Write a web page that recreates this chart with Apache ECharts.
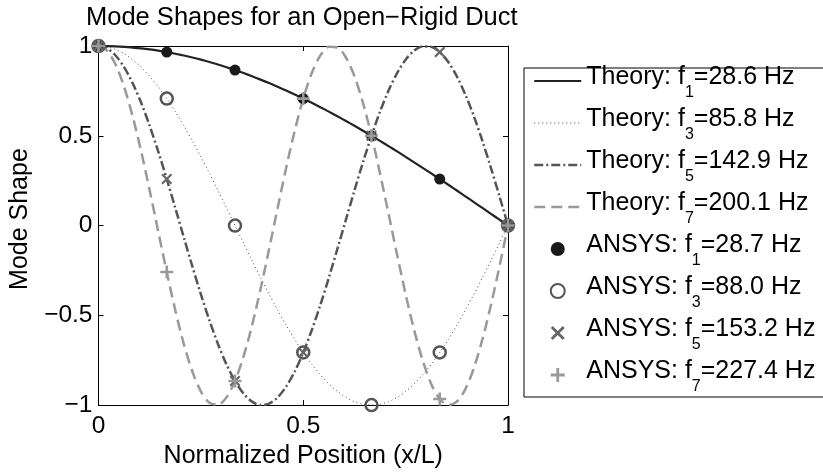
<!DOCTYPE html>
<html><head><meta charset="utf-8">
<script src="https://cdn.jsdelivr.net/npm/echarts@6/dist/echarts.min.js"></script>
<style>html,body{margin:0;padding:0;background:#fff}#c{width:823px;height:474px}</style>
</head><body><div id="c"></div>
<script>
// Normalized positions for the theory curves
const positions = [0, 0.0208, 0.0417, 0.0625, 0.0833, 0.1042, 0.125, 0.1458, 0.1667, 0.1875, 0.2083, 0.2292, 0.25, 0.2708, 0.2917, 0.3125, 0.3333, 0.3542, 0.375, 0.3958, 0.4167, 0.4375, 0.4583, 0.4792, 0.5, 0.5208, 0.5417, 0.5625, 0.5833, 0.6042, 0.625, 0.6458, 0.6667, 0.6875, 0.7083, 0.7292, 0.75, 0.7708, 0.7917, 0.8125, 0.8333, 0.8542, 0.875, 0.8958, 0.9167, 0.9375, 0.9583, 0.9792, 1];
const theoryF1 = [1, 0.9995, 0.9979, 0.9952, 0.9914, 0.9866, 0.9808, 0.9739, 0.9659, 0.9569, 0.9469, 0.9359, 0.9239, 0.9109, 0.8969, 0.8819, 0.8660, 0.8492, 0.8315, 0.8128, 0.7934, 0.7730, 0.7518, 0.7297, 0.7071, 0.6836, 0.6593, 0.6344, 0.6088, 0.5825, 0.5556, 0.5281, 0.5, 0.4714, 0.4423, 0.4128, 0.3827, 0.3522, 0.3214, 0.2903, 0.2588, 0.2271, 0.1951, 0.1629, 0.1305, 0.0980, 0.0654, 0.0327, 0];
const theoryF3 = [1, 0.9952, 0.9808, 0.9569, 0.9239, 0.8819, 0.8315, 0.7730, 0.7071, 0.6344, 0.5556, 0.4714, 0.3827, 0.2903, 0.1951, 0.0980, 0, -0.0980, -0.1951, -0.2903, -0.3827, -0.4714, -0.5556, -0.6344, -0.7071, -0.7730, -0.8315, -0.8819, -0.9239, -0.9569, -0.9808, -0.9952, -1, -0.9952, -0.9808, -0.9569, -0.9239, -0.8819, -0.8315, -0.7730, -0.7071, -0.6344, -0.5556, -0.4714, -0.3827, -0.2903, -0.1951, -0.0980, 0];
const theoryF5 = [1, 0.9866, 0.9469, 0.8819, 0.7934, 0.6836, 0.5556, 0.4128, 0.2588, 0.0980, -0.0654, -0.2271, -0.3827, -0.5281, -0.6593, -0.7730, -0.8660, -0.9359, -0.9808, -0.9995, -0.9914, -0.9569, -0.8969, -0.8128, -0.7071, -0.5825, -0.4423, -0.2903, -0.1305, 0.0327, 0.1951, 0.3522, 0.5, 0.6344, 0.7518, 0.8492, 0.9239, 0.9739, 0.9979, 0.9952, 0.9659, 0.9109, 0.8315, 0.7297, 0.6088, 0.4714, 0.3214, 0.1629, 0];
const theoryF7 = [1, 0.9739, 0.8969, 0.7730, 0.6088, 0.4128, 0.1951, -0.0327, -0.2588, -0.4714, -0.6593, -0.8128, -0.9239, -0.9866, -0.9979, -0.9569, -0.8660, -0.7297, -0.5556, -0.3522, -0.1305, 0.0980, 0.3214, 0.5281, 0.7071, 0.8492, 0.9469, 0.9952, 0.9914, 0.9359, 0.8315, 0.6836, 0.5, 0.2903, 0.0654, -0.1629, -0.3827, -0.5825, -0.7518, -0.8819, -0.9659, -0.9995, -0.9808, -0.9109, -0.7934, -0.6344, -0.4423, -0.2271, 0];

// ANSYS nodal results
const ansysX = [0, 0.1667, 0.3333, 0.5, 0.6667, 0.8333, 1];
const ansysF1 = [1, 0.966, 0.866, 0.707, 0.5, 0.259, 0];
const ansysF3 = [1, 0.707, 0, -0.707, -1, -0.707, 0];
const ansysF5 = [1, 0.259, -0.866, -0.707, 0.5, 0.966, 0];
const ansysF7 = [1, -0.259, -0.866, 0.707, 0.5, -0.966, 0];

const theoryNames = ['Theory: f1=28.6 Hz', 'Theory: f3=85.8 Hz', 'Theory: f5=142.9 Hz', 'Theory: f7=200.1 Hz'];
const ansysNames = ['ANSYS: f1=28.7 Hz', 'ANSYS: f3=88.0 Hz', 'ANSYS: f5=153.2 Hz', 'ANSYS: f7=227.4 Hz'];
const xTicks = [0, 0.5, 1];
const yTicks = [-1, -0.5, 0, 0.5, 1];

const FONT = '"Liberation Sans", Arial, Helvetica, sans-serif';
const pair = (xs, ys) => xs.map((x, i) => [x, ys[i]]);
const tickFmt = v => (v < 0 ? '\u2212' + Math.abs(v) : String(v));

const chart = echarts.init(document.getElementById('c'), null, {renderer: 'canvas'});

const theoryStyles = [
  {color: '#222222', width: 2.2, type: 'solid'},
  {color: '#4a4a4a', width: 1, type: [1, 3]},
  {color: '#555555', width: 2.5, type: [9, 3, 2, 3]},
  {color: '#999999', width: 2.5, type: [11, 6]}
];
const theoryData = [theoryF1, theoryF3, theoryF5, theoryF7];

const series = [];
theoryData.forEach((ys, i) => {
  series.push({
    name: theoryNames[i], type: 'line', data: pair(positions, ys),
    symbol: 'none', showSymbol: false, smooth: 0.3, lineStyle: theoryStyles[i],
    itemStyle: {color: theoryStyles[i].color}, silent: true, z: 2
  });
});
const xPath = 'path://M0,1.4L1.4,0L5,3.6L8.6,0L10,1.4L6.4,5L10,8.6L8.6,10L5,6.4L1.4,10L0,8.6L3.6,5Z';
const plusPath = 'path://M4,0H6V4H10V6H6V10H4V6H0V4H4Z';
series.push({name: ansysNames[0], type: 'scatter', data: pair(ansysX, ansysF1), symbol: 'circle', symbolSize: 11,
  itemStyle: {color: '#1a1a1a', opacity: 1}, silent: true, z: 3});
series.push({name: ansysNames[1], type: 'scatter', data: pair(ansysX, ansysF3), symbol: 'circle', symbolSize: 12,
  itemStyle: {color: 'transparent', borderColor: '#555555', borderWidth: 2.5, opacity: 1}, silent: true, z: 3});
series.push({name: ansysNames[2], type: 'scatter', data: pair(ansysX, ansysF5), symbol: xPath, symbolSize: 11,
  itemStyle: {color: '#666666', opacity: 1}, silent: true, z: 3});
series.push({name: ansysNames[3], type: 'scatter', data: pair(ansysX, ansysF7), symbol: plusPath, symbolSize: 13,
  itemStyle: {color: '#9a9a9a', opacity: 1}, silent: true, z: 3});

const axisCommon = {
  type: 'value', axisLine: {show: true, onZero: false, lineStyle: {color: '#000', width: 1}},
  axisTick: {show: true, inside: true, length: 5, lineStyle: {color: '#000'}},
  splitLine: {show: false}
};
const hideSym = {color: 'transparent', borderWidth: 0, opacity: 0};

chart.setOption({
  animation: false,
  backgroundColor: '#fff',
  title: {
    text: 'Mode Shapes for an Open\u2212Rigid Duct', left: 81, top: 0,
    textStyle: {fontFamily: FONT, fontSize: 25.5, fontWeight: 'normal', color: '#000'}
  },
  grid: {left: 93, right: 315, top: 46, bottom: 65, containLabel: false},
  xAxis: [
    Object.assign({}, axisCommon, {
      position: 'bottom', min: xTicks[0], max: xTicks[xTicks.length - 1], interval: xTicks[1] - xTicks[0],
      name: 'Normalized Position (x/L)', nameLocation: 'middle', nameGap: 45,
      nameTextStyle: {fontFamily: FONT, fontSize: 25, color: '#000', verticalAlign: 'middle'},
      axisLabel: {fontFamily: FONT, fontSize: 24.5, color: '#000', margin: 9, formatter: tickFmt, showMinLabel: true, showMaxLabel: true}
    }),
    Object.assign({}, axisCommon, {
      position: 'top', min: xTicks[0], max: xTicks[xTicks.length - 1], interval: xTicks[1] - xTicks[0],
      axisLabel: {show: false}
    })
  ],
  yAxis: [
    Object.assign({}, axisCommon, {
      position: 'left', min: yTicks[0], max: yTicks[yTicks.length - 1], interval: yTicks[1] - yTicks[0],
      name: 'Mode Shape', nameLocation: 'middle', nameGap: 78,
      nameTextStyle: {fontFamily: FONT, fontSize: 25, color: '#000', verticalAlign: 'middle', padding: [0, 0, 0, 13]},
      axisLabel: {fontFamily: FONT, fontSize: 24.5, color: '#000', margin: 6, formatter: tickFmt, showMinLabel: true, showMaxLabel: true}
    }),
    Object.assign({}, axisCommon, {
      position: 'right', min: yTicks[0], max: yTicks[yTicks.length - 1], interval: yTicks[1] - yTicks[0],
      axisLabel: {show: false}
    })
  ],
  legend: {
    orient: 'vertical', left: 524, top: 68,
    padding: [-6, 24, 2, 9], itemGap: 3,
    itemWidth: 47, itemHeight: 14,
    backgroundColor: '#fff', borderColor: '#000', borderWidth: 1, borderRadius: 0,
    selectedMode: false,
    data: [
      {name: theoryNames[0], lineStyle: {width: 2.2}, itemStyle: hideSym},
      {name: theoryNames[1], lineStyle: {width: 1}, itemStyle: hideSym},
      {name: theoryNames[2], lineStyle: {width: 2.5}, itemStyle: hideSym},
      {name: theoryNames[3], lineStyle: {width: 2.5}, itemStyle: hideSym},
      {name: ansysNames[0]}, {name: ansysNames[1]}, {name: ansysNames[2]}, {name: ansysNames[3]}
    ],
    formatter: name => name.replace(/f(\d)=/, 'f{s|$1}='),
    textStyle: {
      fontFamily: FONT, fontSize: 25, color: '#000', lineHeight: 30, padding: [0, 0, 8, 0],
      rich: {s: {fontFamily: FONT, fontSize: 16, color: '#000', padding: [32, 0, 0, 0]}}
    }
  },
  series: series
});
</script>
</body></html>
